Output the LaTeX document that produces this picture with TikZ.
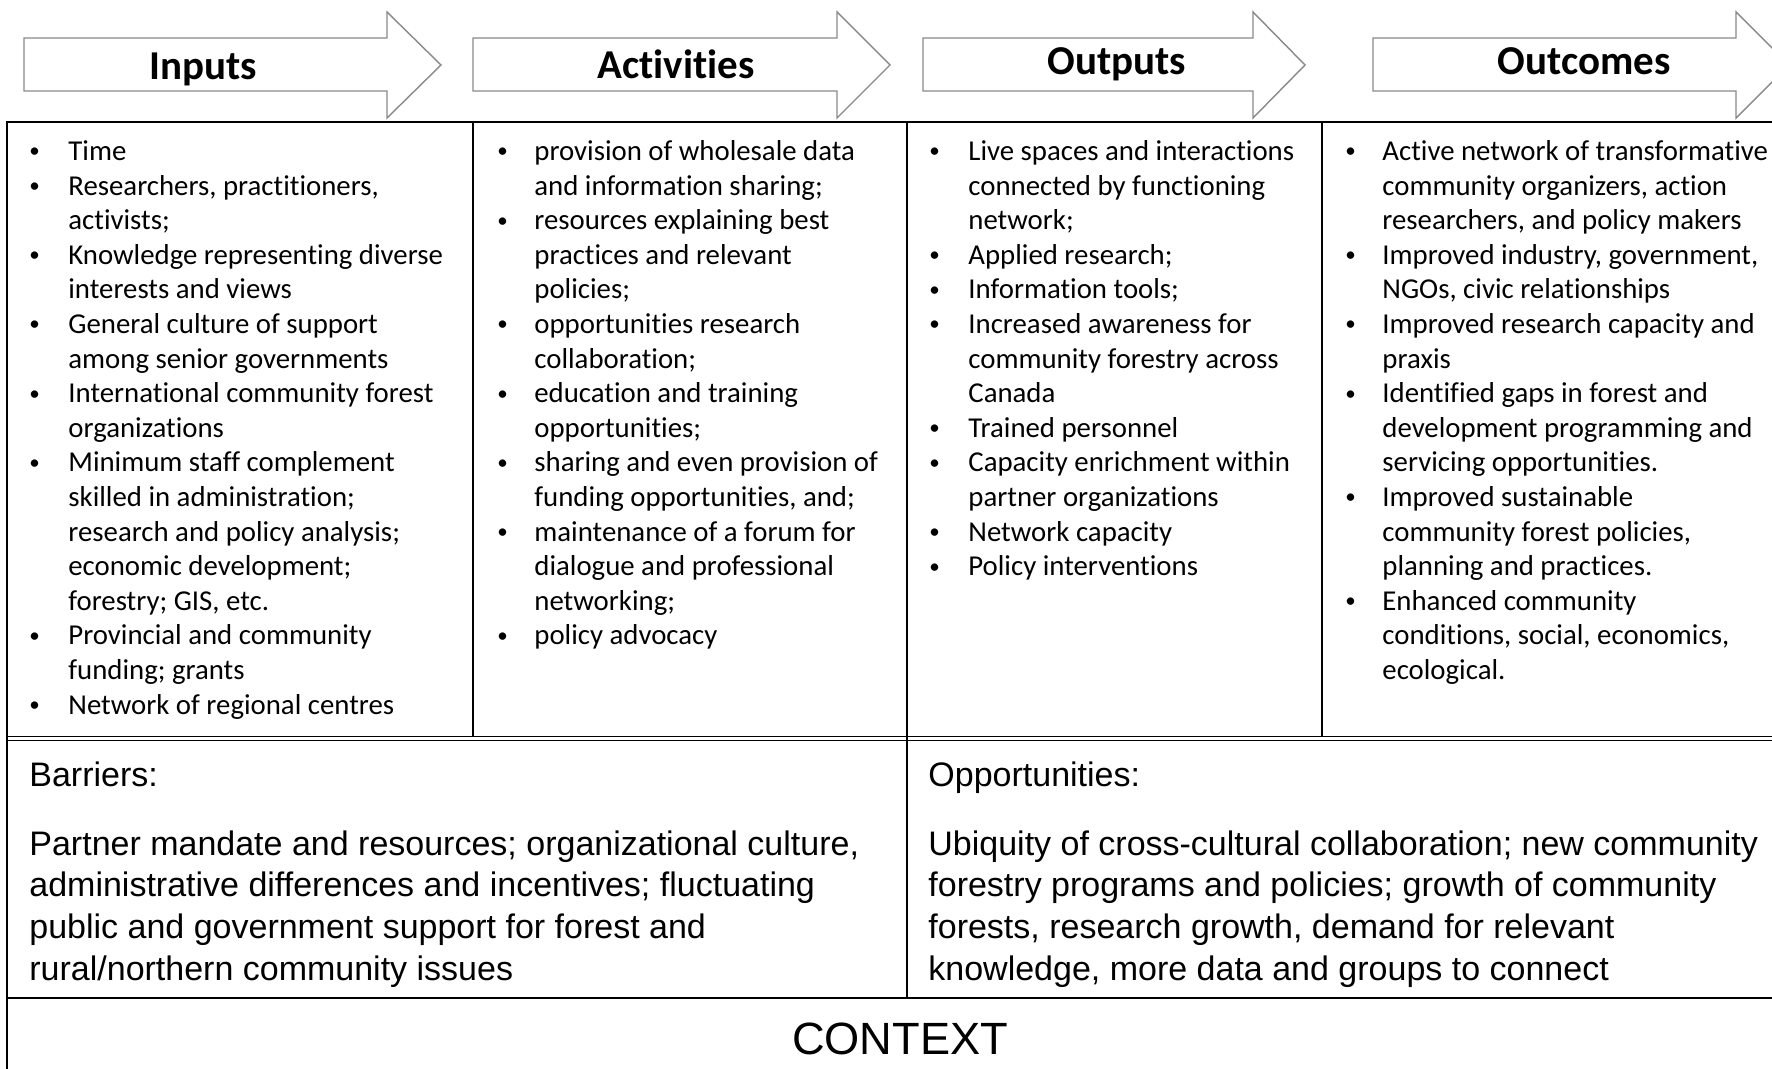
\documentclass[tikz,border=0pt]{standalone}
\usepackage{fontspec}
\setmainfont{Carlito}[Ligatures={NoCommon,NoContextual,NoRare}, Contextuals=NoAlternate]
\newfontfamily\arialf{Liberation Sans}
\definecolor{arrowgray}{RGB}{137,137,137}
\newcommand{\bul}{\raisebox{1.3pt}{\fontsize{10.5}{10}\selectfont\textbullet}}
\begin{document}
\begin{tikzpicture}[x=0.5pt,y=-0.5pt,
  flow/.style={draw=arrowgray, line width=0.7pt, fill=white, line join=miter},
  hdr/.style={font=\fontsize{20.5}{24}\selectfont\bfseries, anchor=base, inner sep=0},
  gridline/.style={line width=1pt, draw=black},
  col/.style={anchor=base west, inner sep=0, font=\fontsize{14.4}{17.3}\selectfont},
  lower/.style={anchor=base west, inner sep=0, font=\arialf\fontsize{17}{20.9}\selectfont}]
\useasboundingbox (0,0) rectangle (1772,1069);
\clip (0,0) rectangle (1772,1069);
\fill[white] (0,0) rectangle (1772,1069);

% header arrows
\draw[flow] (24,38) -- (387,38) -- (387,12) -- (441,65) -- (387,118) -- (387,91) -- (24,91) -- cycle;
\draw[flow] (473,38) -- (837,38) -- (837,12) -- (890,65) -- (837,118) -- (837,91) -- (473,91) -- cycle;
\draw[flow] (923,38) -- (1253,38) -- (1253,12) -- (1305,65) -- (1253,118) -- (1253,91) -- (923,91) -- cycle;
\draw[flow] (1373,38) -- (1736,38) -- (1736,12) -- (1789,65) -- (1736,118) -- (1736,91) -- (1373,91) -- cycle;

\node[hdr] (hIn)  at (203,80) {Inputs};
\node[hdr] (hAct) at (676,79) {Activities};
\node[hdr] (hOut) at (1117,75) {Outputs};
\node[hdr] (hOc)  at (1584,75) {Outcomes};

% table grid
\draw[gridline] (7,122) -- (1772,122);
\draw[gridline] (7,121.5) -- (7,1069);
\draw[gridline] (473,122) -- (473,737);
\draw[gridline] (907,122) -- (907,998);
\draw[gridline] (1322,122) -- (1322,737);
\draw[gridline, line width=0.8pt] (7,736.5) -- (1772,736.5);
\draw[gridline, line width=0.8pt] (7,740.5) -- (1772,740.5);
\draw[gridline] (7,998) -- (1772,998);

% columns
\node[col] (inputs) at (29,160.5) {\begin{tabular}[t]{@{}p{19.5pt}@{}l@{}}
\bul & Time\\
\bul & Researchers, practitioners,\\
 & activists;\\
\bul & Knowledge representing diverse\\
 & interests and views\\
\bul & General culture of support\\
 & among senior governments\\
\bul & International community forest\\
 & organizations\\
\bul & Minimum staff complement\\
 & skilled in administration;\\
 & research and policy analysis;\\
 & economic development;\\
 & forestry; GIS, etc.\\
\bul & Provincial and community\\
 & funding; grants\\
\bul & Network of regional centres
\end{tabular}};

\node[col] (activities) at (497,160.5) {\begin{tabular}[t]{@{}p{18.5pt}@{}l@{}}
\bul & provision of wholesale data\\
 & and information sharing;\\
\bul & resources explaining best\\
 & practices and relevant\\
 & policies;\\
\bul & opportunities research\\
 & collaboration;\\
\bul & education and training\\
 & opportunities;\\
\bul & sharing and even provision of\\
 & funding opportunities, and;\\
\bul & maintenance of a forum for\\
 & dialogue and professional\\
 & networking;\\
\bul & policy advocacy
\end{tabular}};

\node[col] (outputs) at (929,160.5) {\begin{tabular}[t]{@{}p{19.5pt}@{}l@{}}
\bul & Live spaces and interactions\\
 & connected by functioning\\
 & network;\\
\bul & Applied research;\\
\bul & Information tools;\\
\bul & Increased awareness for\\
 & community forestry across\\
 & Canada\\
\bul & Trained personnel\\
\bul & Capacity enrichment within\\
 & partner organizations\\
\bul & Network capacity\\
\bul & Policy interventions
\end{tabular}};

\node[col] (outcomes) at (1345,160.5) {\begin{tabular}[t]{@{}p{18.5pt}@{}l@{}}
\bul & Active network of transformative\\
 & community organizers, action\\
 & researchers, and policy makers\\
\bul & Improved industry, government,\\
 & NGOs, civic relationships\\
\bul & Improved research capacity and\\
 & praxis\\
\bul & Identified gaps in forest and\\
 & development programming and\\
 & servicing opportunities.\\
\bul & Improved sustainable\\
 & community forest policies,\\
 & planning and practices.\\
\bul & Enhanced community\\
 & conditions, social, economics,\\
 & ecological.
\end{tabular}};

% lower row
\node[lower] (barT) at (29,786) {Barriers:};
\node[lower] (barB) at (29,855) {\begin{tabular}[t]{@{}l@{}}
Partner mandate and resources; organizational culture,\\
administrative differences and incentives; fluctuating\\
public and government support for forest and\\
rural/northern community issues
\end{tabular}};
\node[lower] (oppT) at (928,786) {Opportunities:};
\node[lower] (oppB) at (928,855) {\begin{tabular}[t]{@{}l@{}}
Ubiquity of cross-cultural collaboration; new community\\
forestry programs and policies; growth of community\\
forests, research growth, demand for relevant\\
knowledge, more data and groups to connect
\end{tabular}};

\node[anchor=base, inner sep=0, font=\arialf\fontsize{22.6}{26}\selectfont] (ctx) at (900,1054) {CONTEXT};
\end{tikzpicture}
\end{document}
